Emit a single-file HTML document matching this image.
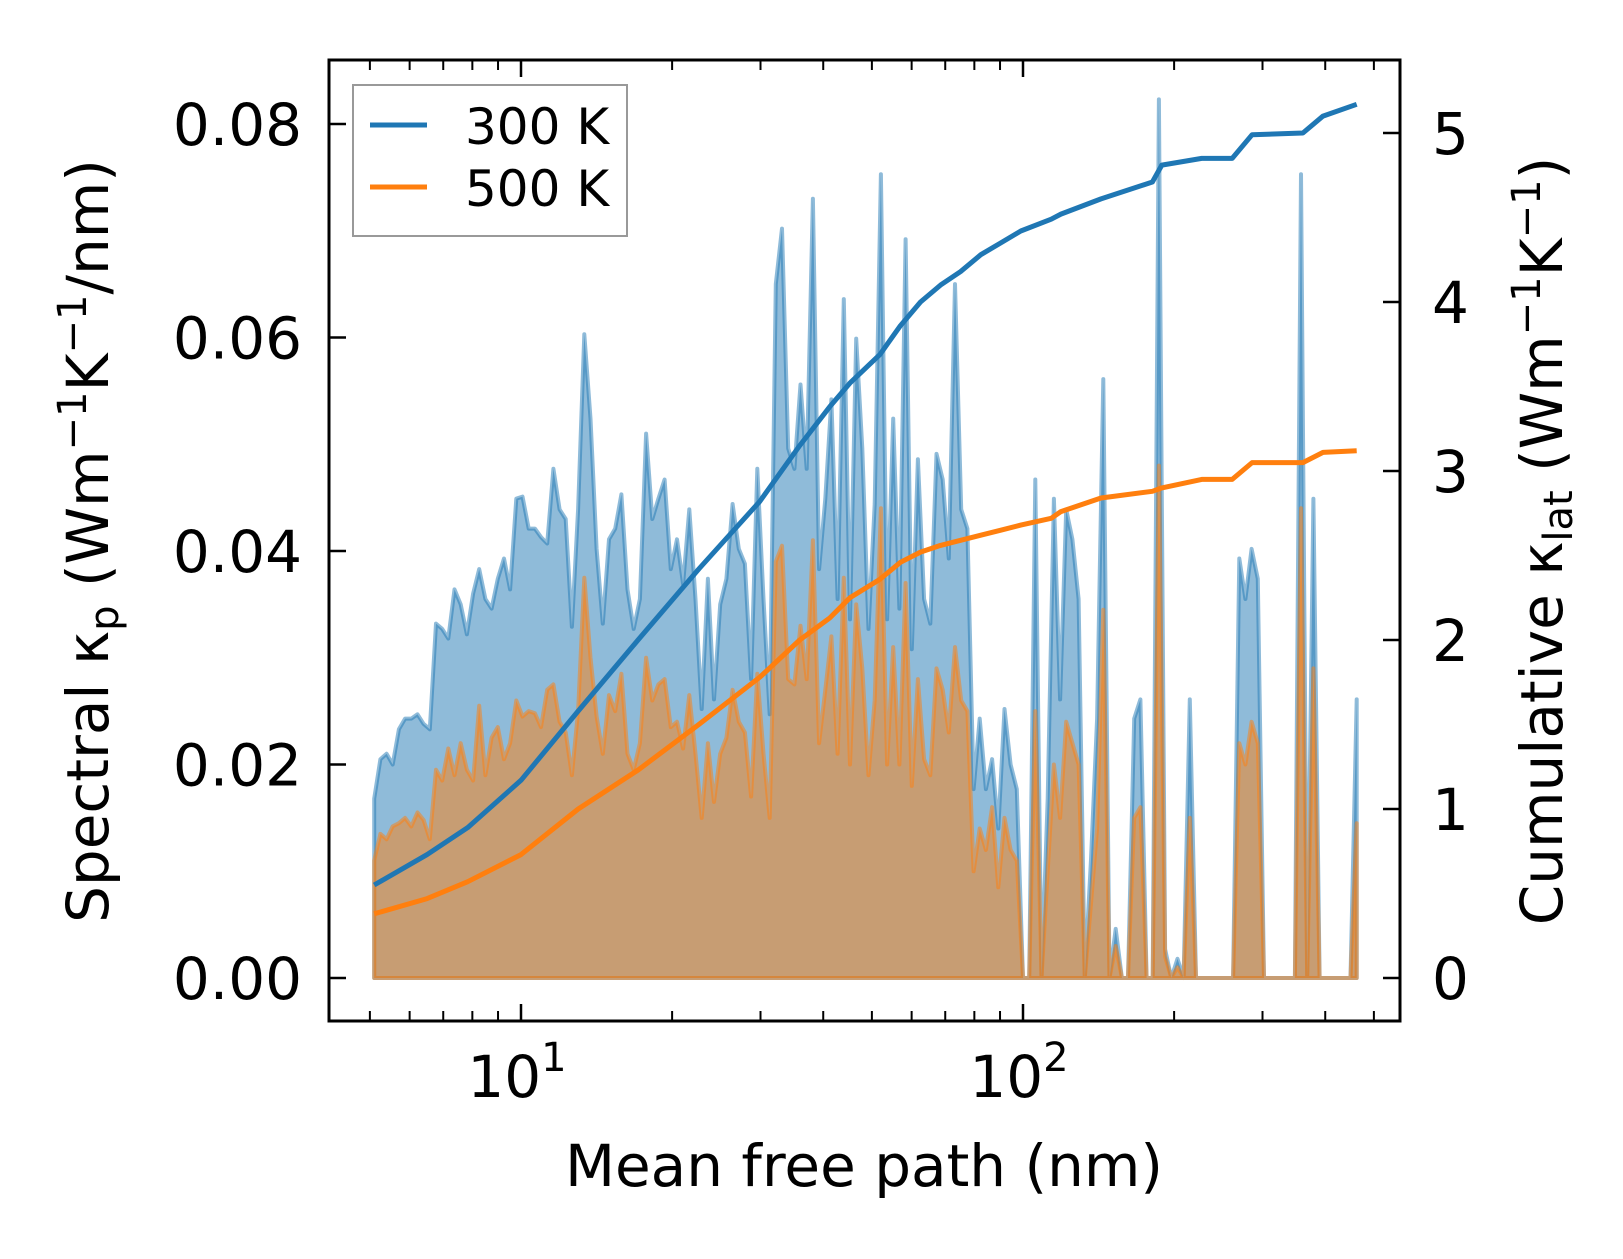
<!DOCTYPE html>
<html><head><meta charset="utf-8"><style>
html,body{margin:0;padding:0;background:#fff}
svg text{font-family:"DejaVu Sans","Liberation Sans",sans-serif;fill:#000}
</style></head><body>
<svg id="chart" width="1623" height="1254" viewBox="0 0 1623 1254" xmlns="http://www.w3.org/2000/svg">
<rect width="1623" height="1254" fill="#fff"/>
<g id="areas"></g>
<g id="lines"></g>
<rect x="329" y="60" width="1071" height="961" fill="none" stroke="#000" stroke-width="3"/>
<g id="ticks"></g>
<g>
<rect x="353" y="85" width="274" height="151" fill="#fff" fill-opacity="0.8" stroke="#999" stroke-width="2"/>
<line x1="370" y1="125" x2="427" y2="125" stroke="#1f77b4" stroke-width="5"/>
<text x="465" y="144" font-size="50">300 K</text>
<line x1="370" y1="187" x2="427" y2="187" stroke="#ff7f0e" stroke-width="5"/>
<text x="465" y="206" font-size="50">500 K</text>
</g>
<text x="864" y="1186" font-size="58" text-anchor="middle">Mean free path (nm)</text>
<text transform="translate(108,541) rotate(-90)" font-size="58" text-anchor="middle">Spectral κ<tspan font-size="40" dy="10">p</tspan><tspan dy="-10"> (Wm</tspan><tspan font-size="40" dy="-22">−1</tspan><tspan dy="22">K</tspan><tspan font-size="40" dy="-22">−1</tspan><tspan dy="22">/nm)</tspan></text>
<text transform="translate(1562,541) rotate(-90)" font-size="58" text-anchor="middle">Cumulative κ<tspan font-size="40" dy="10">lat</tspan><tspan dy="-10"> (Wm</tspan><tspan font-size="40" dy="-22">−1</tspan><tspan dy="22">K</tspan><tspan font-size="40" dy="-22">−1</tspan><tspan dy="22">)</tspan></text>
</svg>
<script>
// spectral kappa (units of 1e-3 W/m/K/nm), bins log-spaced from mfpStart to mfpEnd
const mfpStart = 5.1;
const mfpEnd = 462;
const spec300 = [16.8,20.5,21.0,20.0,23.3,24.3,24.3,24.7,23.8,23.3,33.2,32.7,31.8,36.4,35.0,32.2,36.0,38.3,35.5,34.6,37.4,39.3,36.4,44.9,45.1,42.1,42.1,41.3,40.7,47.7,43.9,43.0,32.9,43.9,60.3,52.4,40.2,33.2,41.1,42.1,45.3,36.4,32.7,35.5,51.0,43.0,44.9,46.7,38.3,41.1,36.9,43.9,35.5,25.2,37.4,26.1,35.0,37.4,44.4,40.2,38.8,28.0,47.7,35.5,24.7,65.0,70.2,49.6,47.7,55.6,47.7,73.0,38.3,44.9,54.2,35.5,63.6,33.6,59.9,49.6,32.7,44.4,75.3,33.6,52.4,34.6,69.2,30.8,48.6,35.5,33.2,49.1,46.7,39.3,65.0,43.9,42.1,17.7,24.3,17.7,20.5,14.0,25.2,20.0,17.7,0,0,46.7,0,16.8,44.9,26.1,43.9,41.1,35.5,0,11.1,24.3,56.1,0,4.6,0,0,24.3,26.1,0,0,82.3,2.7,0,1.8,0,26.1,0,0,0,0,0,0,0,39.3,35.5,40.2,37.4,0,0,0,0,0,0,75.3,0,44.9,0,0,0,0,0,0,26.1];
const spec500 = [11.0,13.5,13.0,14.2,14.5,15.0,14.2,15.5,14.8,13.0,19.5,18.5,21.5,19.0,22.0,19.5,18.5,25.5,19.0,22.5,23.5,20.5,22.0,26.0,24.5,25.0,24.8,23.5,27.0,27.5,24.0,23.0,19.0,25.0,37.5,30.0,24.5,21.0,26.5,25.0,28.5,21.0,19.5,22.0,30.0,26.0,27.5,28.0,23.5,24.0,21.5,26.5,21.0,15.0,22.0,16.5,21.0,22.5,27.0,24.0,23.0,17.0,28.5,21.0,15.0,39.0,40.5,28.0,27.5,33.0,28.0,41.0,22.0,27.0,32.0,21.0,37.5,20.0,35.0,29.0,19.0,26.0,44.0,20.0,31.0,20.0,37.0,18.0,28.0,20.5,19.0,29.0,27.0,23.0,31.0,26.0,25.0,10.0,14.0,12.0,16.0,8.5,15.0,12.0,11.0,0,0,25.0,0,10.0,20.0,15.0,24.0,22.0,20.0,0,7.0,14.0,34.5,0,3.0,0,0,15.0,16.0,0,0,48.0,2.0,0,1.0,0,15.0,0,0,0,0,0,0,0,22.0,20.0,24.0,22.0,0,0,0,0,0,0,44.0,0,29.0,0,0,0,0,0,0,14.5];
// cumulative kappa (W/m/K)
const cumMfp = [5.1,6.5,7.83,10,13,17.1,22.6,29.9,35.9,41.2,45.2,51.9,57,62.5,68.5,75.1,82.4,90.3,99,113.8,119,143,181,189,227,261,286,361,396,462];
const cum300 = [0.55,0.73,0.89,1.17,1.58,2.0,2.42,2.82,3.15,3.38,3.52,3.69,3.86,4.0,4.1,4.18,4.28,4.35,4.42,4.49,4.52,4.61,4.71,4.81,4.85,4.85,4.99,5.0,5.1,5.17];
const cum500 = [0.38,0.47,0.57,0.73,1.0,1.23,1.5,1.78,2.0,2.13,2.25,2.36,2.46,2.52,2.56,2.59,2.62,2.65,2.68,2.72,2.76,2.84,2.88,2.9,2.95,2.95,3.05,3.05,3.11,3.12];
const leftTicks = [0,0.02,0.04,0.06,0.08];
const leftTickLabels = ["0.00","0.02","0.04","0.06","0.08"];
const rightTicks = [0,1,2,3,4,5];
const xMajor = [10,100];
const xMajorExp = ["1","2"];
const xMinor = [5,6,7,8,9,20,30,40,50,60,70,80,90,200,300,400,500];

const NS="http://www.w3.org/2000/svg";
function xs(m){return 521+(Math.log10(m)-1)*502;}
function yl(v){return 978-v/0.08*854;}
function yr(v){return 978-v*169;}
function mk(tag,attrs,parent){const e=document.createElementNS(NS,tag);for(const k in attrs)e.setAttribute(k,attrs[k]);parent.appendChild(e);return e;}
const N=spec300.length;
const binMfp=[];
for(let i=0;i<N;i++)binMfp.push(mfpStart*Math.pow(mfpEnd/mfpStart,i/(N-1)));

const areas=document.getElementById('areas');
function area(vals,color,name){
  let pts=[];
  for(let i=0;i<vals.length;i++)pts.push(xs(binMfp[i]).toFixed(1)+','+yl(vals[i]/1000).toFixed(1));
  const base=xs(binMfp[vals.length-1]).toFixed(1)+','+yl(0)+' '+xs(binMfp[0]).toFixed(1)+','+yl(0);
  const p=mk('polygon',{points:pts.join(' ')+' '+base,fill:color,'fill-opacity':0.5,stroke:color,'stroke-opacity':0.5,'stroke-width':4,'stroke-linejoin':'round'},areas);
  
  
}
area(spec300,'#1f77b4','spectral-area-300k');
area(spec500,'#ff7f0e','spectral-area-500k');

const lines=document.getElementById('lines');
function line(vals,color,name){
  const pts=vals.map((v,i)=>xs(cumMfp[i]).toFixed(1)+','+yr(v).toFixed(1)).join(' ');
  const p=mk('polyline',{points:pts,fill:'none',stroke:color,'stroke-width':5,'stroke-linejoin':'round'},lines);
  
  
}
line(cum300,'#1f77b4','cumulative-line-300k');
line(cum500,'#ff7f0e','cumulative-line-500k');

const tg=document.getElementById('ticks');
leftTicks.forEach((v,i)=>{
  const y=yl(v);
  const t=mk('line',{x1:329,y1:y,x2:346,y2:y,stroke:'#000','stroke-width':2.5},tg);
  
  
  const l=mk('text',{x:302,y:y+21,'font-size':58,'text-anchor':'end'},tg);
  l.textContent=leftTickLabels[i];
  
  
});
rightTicks.forEach(v=>{
  const y=yr(v);
  const t=mk('line',{x1:1383,y1:y,x2:1400,y2:y,stroke:'#000','stroke-width':2.5},tg);
  
  
  const l=mk('text',{x:1432,y:y+21,'font-size':58},tg);
  l.textContent=String(v);
  
  
});
xMajor.forEach((m,i)=>{
  const x=xs(m);
  [[1021,1004],[60,77]].forEach(([a,b])=>{
    const t=mk('line',{x1:x,y1:a,x2:x,y2:b,stroke:'#000','stroke-width':2.5},tg);
    
    
  });
  const l=mk('text',{x:x-4,y:1097,'font-size':58,'text-anchor':'middle'},tg);
  
  
  l.appendChild(document.createTextNode('10'));
  const s=mk('tspan',{'font-size':40,dy:-26},l);
  s.textContent=xMajorExp[i];
});
xMinor.forEach(m=>{
  const x=xs(m);
  [[1021,1011],[60,70]].forEach(([a,b])=>{
    const t=mk('line',{x1:x,y1:a,x2:x,y2:b,stroke:'#000','stroke-width':2},tg);
    
    
  });
});
</script>
</body></html>
